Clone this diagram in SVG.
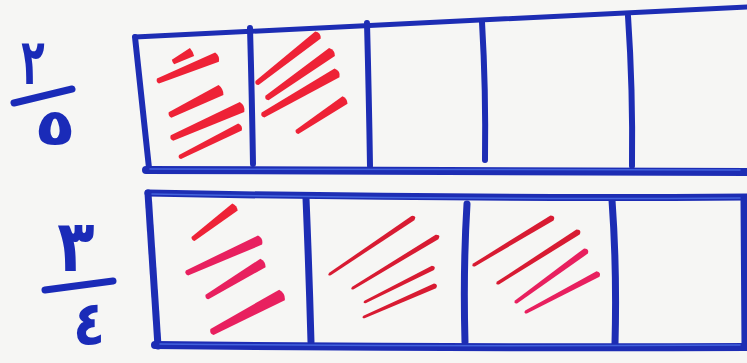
<svg xmlns="http://www.w3.org/2000/svg" xmlns:xlink="http://www.w3.org/1999/xlink" width="747" height="363" viewBox="0 0 747 363">
<style>
.frame{fill:none;stroke:#1d2db4;stroke-linecap:round;stroke-linejoin:round}
.hl{fill:none;stroke:#4c6fe6;stroke-width:1.5;stroke-linecap:round;opacity:0.8}
.num{font-family:"DejaVu Sans","Noto Sans",sans-serif;font-weight:bold;fill:#1a2bb8}
.red{fill:#ee2236}
.pink{fill:#e8205f}
.dred{fill:#d81b32}
</style>
<defs>
<path id="t" d="M0,-0.55 L100,-1 Q105,0 100,1 L0,0.55 Q-4,0 0,-0.55Z"/>
</defs>
<rect width="747" height="363" fill="#f6f6f4"/>

<g id="fraction-2-5">
<text class="num" font-size="64" text-anchor="middle" transform="translate(33,84) scale(0.6,1)">٢</text>
<path d="M14,103 L72,89" stroke="#1a2bb8" stroke-width="7" stroke-linecap="round" fill="none"/>
<text class="num" font-size="56" text-anchor="middle" transform="translate(55,145) scale(1.2,0.9)">٥</text>
</g>

<g id="fraction-3-4">
<text class="num" font-size="72" text-anchor="middle" transform="translate(76,271) scale(0.85,1)">٣</text>
<path d="M45,290 L113,281" stroke="#1a2bb8" stroke-width="7" stroke-linecap="round" fill="none"/>
<text class="num" font-size="62" text-anchor="middle" transform="translate(89,345) scale(0.85,1)">٤</text>
</g>

<g id="bar-fifths">
<path class="frame" stroke-width="5" d="M135,37 L747,7"/>
<path class="frame" stroke-width="6" d="M135,37 L149,168"/>
<path class="frame" stroke-width="8" d="M146,170 L747,172"/>
<path class="frame" stroke-width="6" d="M250,28 Q252,100 253,164"/>
<path class="frame" stroke-width="6" d="M367,23 Q369,100 370,166"/>
<path class="frame" stroke-width="6" d="M482,22 Q486,90 485,160"/>
<path class="frame" stroke-width="6" d="M628,16 Q633,90 632,166"/>
<path class="hl" d="M150,169 L740,170"/>
</g>

<g id="bar-quarters">
<path class="frame" stroke-width="7" d="M148,193 Q450,199 747,197"/>
<path class="frame" stroke-width="7" d="M148,193 L158,346"/>
<path class="frame" stroke-width="8" d="M155,345 Q450,348 747,347"/>
<path class="frame" stroke-width="7" d="M306,198 Q309,270 311,342"/>
<path class="frame" stroke-width="7" d="M467,204 Q463,270 465,342"/>
<path class="frame" stroke-width="7" d="M612,200 Q617,270 615,344"/>
<path class="frame" stroke-width="7" d="M744,200 L745,345"/>
<path class="hl" d="M152,194 Q450,200 740,198"/>
<path class="hl" d="M160,344 Q450,347 740,345"/>
</g>

<g id="shading-top">
<use xlink:href="#t" class="red" transform="translate(173,62) rotate(-27.8) scale(0.215,4.5)"/>
<use xlink:href="#t" class="red" transform="translate(158,81) rotate(-22.1) scale(0.637,5)"/>
<use xlink:href="#t" class="red" transform="translate(170,115) rotate(-26.1) scale(0.568,5.5)"/>
<use xlink:href="#t" class="red" transform="translate(172,138) rotate(-23.9) scale(0.766,5.5)"/>
<use xlink:href="#t" class="red" transform="translate(180,157) rotate(-26.6) scale(0.671,4)"/>
<use xlink:href="#t" class="red" transform="translate(257,83) rotate(-38.2) scale(0.776,4.5)"/>
<use xlink:href="#t" class="red" transform="translate(267,98) rotate(-35.3) scale(0.796,5)"/>
<use xlink:href="#t" class="red" transform="translate(263,115) rotate(-29.6) scale(0.851,5)"/>
<use xlink:href="#t" class="red" transform="translate(297,132) rotate(-33.7) scale(0.577,4.5)"/>
</g>

<g id="shading-bottom">
<use xlink:href="#t" class="red" transform="translate(193,239) rotate(-37.3) scale(0.528,4.5)"/>
<use xlink:href="#t" class="pink" transform="translate(187,273) rotate(-24.3) scale(0.801,5)"/>
<use xlink:href="#t" class="pink" transform="translate(207,297) rotate(-31.3) scale(0.655,5)"/>
<use xlink:href="#t" class="pink" transform="translate(212,332) rotate(-27.9) scale(0.792,6)"/>
<use xlink:href="#t" class="dred" transform="translate(330,274) rotate(-34) scale(1.0,2.6)"/>
<use xlink:href="#t" class="dred" transform="translate(353,288) rotate(-31.3) scale(0.983,2.6)"/>
<use xlink:href="#t" class="dred" transform="translate(365,302) rotate(-26.6) scale(0.76,2.4)"/>
<use xlink:href="#t" class="dred" transform="translate(364,317) rotate(-23.6) scale(0.775,2.6)"/>
<use xlink:href="#t" class="dred" transform="translate(474,265) rotate(-31.1) scale(0.911,3)"/>
<use xlink:href="#t" class="dred" transform="translate(498,283) rotate(-32.5) scale(0.949,3)"/>
<use xlink:href="#t" class="pink" transform="translate(516,302) rotate(-36.1) scale(0.866,3.2)"/>
<use xlink:href="#t" class="pink" transform="translate(526,312) rotate(-27.8) scale(0.814,3.2)"/>
</g>
</svg>
